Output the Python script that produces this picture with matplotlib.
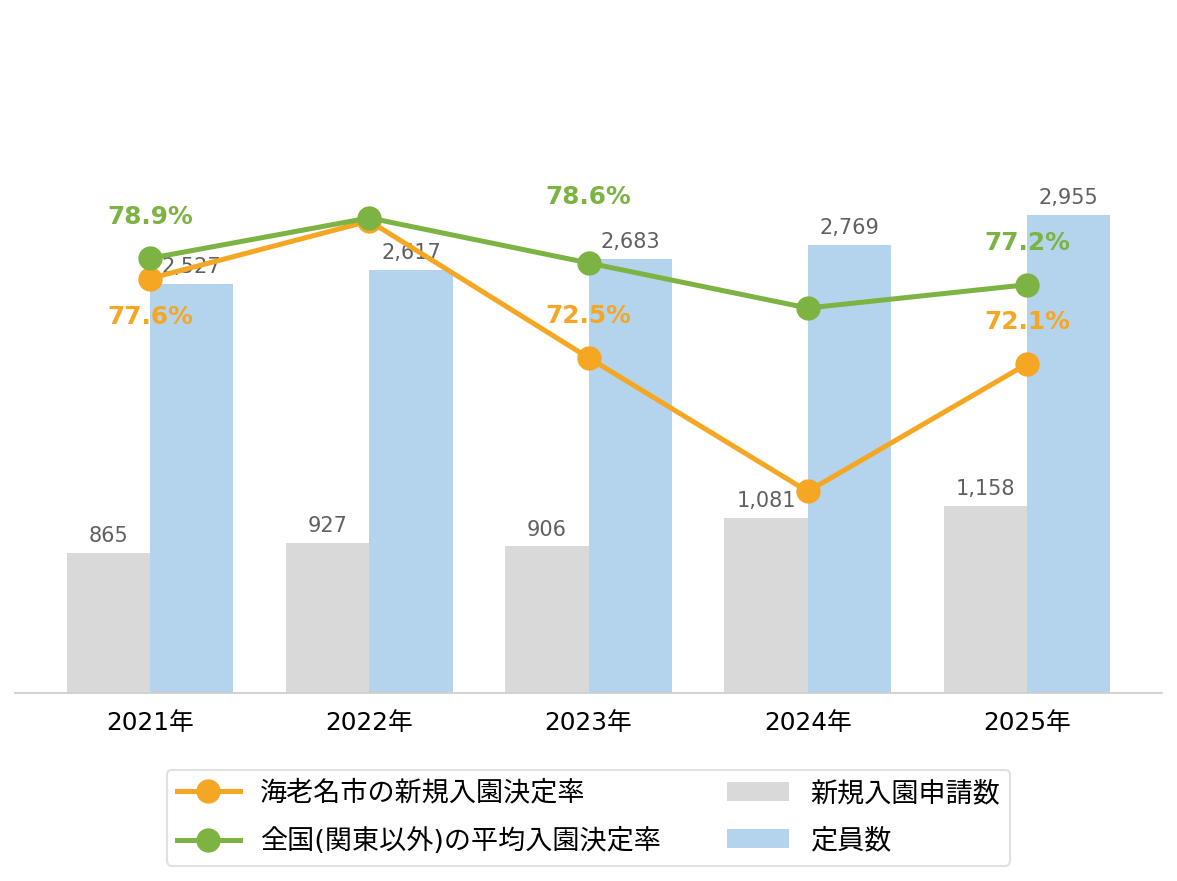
import matplotlib
matplotlib.use('Agg')
import matplotlib.pyplot as plt
import numpy as np

plt.rcParams['font.family'] = ['DejaVu Sans', 'Noto Sans CJK JP']

# data
years = ['2021年', '2022年', '2023年', '2024年', '2025年']
applications = [865, 927, 906, 1081, 1158]        # 新規入園申請数
capacity = [2527, 2617, 2683, 2769, 2955]         # 定員数
ebina_rate = [77.6, 81.3, 72.5, 63.9, 72.1]       # 海老名市の新規入園決定率
national_rate = [78.9, 81.5, 78.6, 75.7, 77.2]    # 全国(関東以外)の平均入園決定率
ebina_labels = ['77.6%', None, '72.5%', None, '72.1%']
national_labels = ['78.9%', None, '78.6%', None, '77.2%']

# label offsets in pixels (placement only)
ebina_offsets = [-38, 0, 42, 0, 42]
national_offsets = [41, 0, 66, 0, 42]

ORANGE = '#F5A623'
GREEN = '#7CB342'
GRAY = '#D9D9D9'
BLUE = '#B4D4EE'
TEXT = '#606060'

fig = plt.figure(figsize=(11.77, 8.81), dpi=100)
ax = fig.add_axes([15 / 1177, 188 / 881, 1147 / 1177, 647 / 881])
ax2 = ax.twinx()

x = np.arange(len(years))
w = 0.38
b1 = ax.bar(x - w / 2, applications, width=w, color=GRAY, label='新規入園申請数')
b2 = ax.bar(x + w / 2, capacity, width=w, color=BLUE, label='定員数')

for bars, vals in ((b1, applications), (b2, capacity)):
    for rect, v in zip(bars, vals):
        ax.annotate(f'{v:,}', (rect.get_x() + rect.get_width() / 2, rect.get_height()),
                    xytext=(0, 5), textcoords='offset points', ha='center', va='bottom',
                    fontsize=15, color=TEXT)

ax.set_xlim(-0.616, 4.616)
ax.set_ylim(0, 4000)
ax.set_yticks([])
ax.set_xticks(x)
ax.set_xticklabels(years, fontsize=17.8)
ax.tick_params(axis='x', length=0, pad=13)
for s in ['top', 'left', 'right']:
    ax.spines[s].set_visible(False)
ax.spines['bottom'].set_color('#CFCFCF')
ax.spines['bottom'].set_linewidth(1.3)

l1, = ax2.plot(x, ebina_rate, color=ORANGE, lw=3.6, marker='o', ms=16.5,
               label='海老名市の新規入園決定率')
l2, = ax2.plot(x, national_rate, color=GREEN, lw=3.6, marker='o', ms=16.5,
               label='全国(関東以外)の平均入園決定率')
ax2.set_ylim(50.93, 92.56)
ax2.set_yticks([])
for s in ['top', 'left', 'right', 'bottom']:
    ax2.spines[s].set_visible(False)

for xi, v, lab, off in zip(x, ebina_rate, ebina_labels, ebina_offsets):
    if lab:
        ax2.annotate(lab, (xi, v), xytext=(0, off), textcoords='offset pixels',
                     ha='center', va='center', fontsize=17.8, fontweight='bold', color=ORANGE)
for xi, v, lab, off in zip(x, national_rate, national_labels, national_offsets):
    if lab:
        ax2.annotate(lab, (xi, v), xytext=(0, off), textcoords='offset pixels',
                     ha='center', va='center', fontsize=17.8, fontweight='bold', color=GREEN)

leg = fig.legend([l1, l2, b1, b2],
                 ['海老名市の新規入園決定率', '全国(関東以外)の平均入園決定率', '新規入園申請数', '定員数'],
                 loc='upper center', bbox_to_anchor=(0.5, 1 - 770 / 881), ncol=2,
                 fontsize=19.5, frameon=True, handlelength=2.3, columnspacing=2.45,
                 labelspacing=0.78, borderpad=0.4, handletextpad=0.75, borderaxespad=0)
leg.get_frame().set_edgecolor('#D9D9D9')
leg.get_frame().set_linewidth(1.5)

fig.savefig('out.png', dpi=100)
